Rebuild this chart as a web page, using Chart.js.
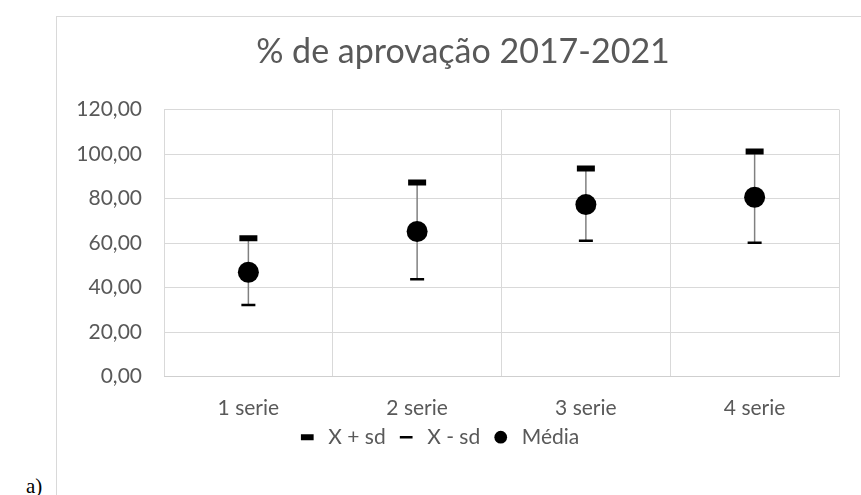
<!DOCTYPE html>
<html>
<head>
<meta charset="utf-8">
<script src="https://cdn.jsdelivr.net/npm/chart.js@4.4.0/dist/chart.umd.min.js"></script>
<style>
html, body { margin: 0; padding: 0; background: #fff; }
#wrap { position: relative; width: 861px; height: 495px; overflow: hidden; }
#frame { position: absolute; left: 56px; top: 16px; width: 900px; height: 600px; border: 1px solid #d9d9d9; }
#lbl { position: absolute; left: 26px; top: 474px; font-family: "Liberation Serif"; font-size: 21px; color: #000; }
canvas { position: absolute; left: 0; top: 0; }
</style>
</head>
<body>
<div id="wrap">
  <div id="frame"></div>
  <div id="lbl">a)</div>
  <canvas id="myChart" width="861" height="495"></canvas>
</div>
<script>
'use strict'

var categories = ['1 serie', '2 serie', '3 serie', '4 serie'];
var upperSd = [62.2, 87.2, 93.5, 101.1];   // X + sd
var lowerSd = [32.2, 43.8, 61.1, 60.2];    // X - sd
var media = [46.9, 65.2, 77.3, 80.6];      // Média

var grey = '#595959';
var fontName = 'Lato';

/* vertical line from X + sd down to X - sd */
var errorLines = {
    id: 'errorLines',
    beforeDatasetsDraw: function(chart) {
        var ctx = chart.ctx;
        var up = chart.getDatasetMeta(0).data;
        var lo = chart.getDatasetMeta(1).data;
        ctx.save();
        ctx.strokeStyle = '#808080';
        ctx.lineWidth = 1.5;
        for (var i = 0; i < up.length; i++) {
            ctx.beginPath();
            ctx.moveTo(up[i].x, up[i].y);
            ctx.lineTo(lo[i].x, lo[i].y);
            ctx.stroke();
        }
        ctx.restore();
    },
    afterLayout: function(chart) {
        /* title and legend are not centred on the same point in the original */
        chart.titleBlock.left += 13.5;
        chart.titleBlock.right += 13.5;
        chart.legend.left -= 11.5;
        chart.legend.right -= 11.5;
    }
};

var ctx = document.getElementById('myChart').getContext('2d');

var graphData = {
    type: 'line',
    data: {
        labels: categories,
        datasets: [{
            label: 'X + sd',
            data: upperSd,
            showLine: false,
            pointStyle: 'line',
            pointRadius: 9,
            borderWidth: 6,
            borderColor: '#000',
            backgroundColor: '#000'
        }, {
            label: 'X - sd',
            data: lowerSd,
            showLine: false,
            pointStyle: 'line',
            pointRadius: 7,
            borderWidth: 2.5,
            borderColor: '#000',
            backgroundColor: '#000'
        }, {
            label: 'Média',
            data: media,
            showLine: false,
            pointStyle: 'circle',
            pointRadius: 10.5,
            borderWidth: 0,
            borderColor: '#000',
            backgroundColor: '#000'
        }]
    },
    options: {
        responsive: false,
        animation: false,
        layout: { padding: { left: 60, right: 22, top: 0, bottom: 37.3 } },
        plugins: {
            title: {
                display: true,
                text: '% de aprovação 2017-2021',
                color: grey,
                font: { family: fontName, size: 34, weight: 'normal' },
                padding: { top: 31.6, bottom: 37.1 }
            },
            legend: {
                position: 'bottom',
                labels: {
                    usePointStyle: true,
                    boxHeight: 9,
                    padding: 10,
                    color: grey,
                    font: { family: fontName, size: 21 }
                }
            },
            tooltip: { enabled: false }
        },
        scales: {
            x: {
                offset: true,
                grid: { offset: true, color: '#d9d9d9', drawTicks: false },
                border: { color: '#cfcfcf' },
                ticks: { color: grey, padding: 18.7, font: { family: fontName, size: 21 } },
                afterFit: function(s) { s.height = 40; }
            },
            y: {
                min: 0,
                max: 120,
                grid: { color: '#d9d9d9', drawTicks: false },
                border: { display: false },
                ticks: {
                    stepSize: 20,
                    color: grey,
                    padding: 22,
                    font: { family: fontName, size: 21 },
                    callback: function(v) { return v.toFixed(2).replace('.', ','); }
                },
                afterFit: function(s) { s.width = 104; }
            }
        }
    },
    plugins: [errorLines]
};

var myChart = new Chart(ctx, graphData);
</script>
</body>
</html>
